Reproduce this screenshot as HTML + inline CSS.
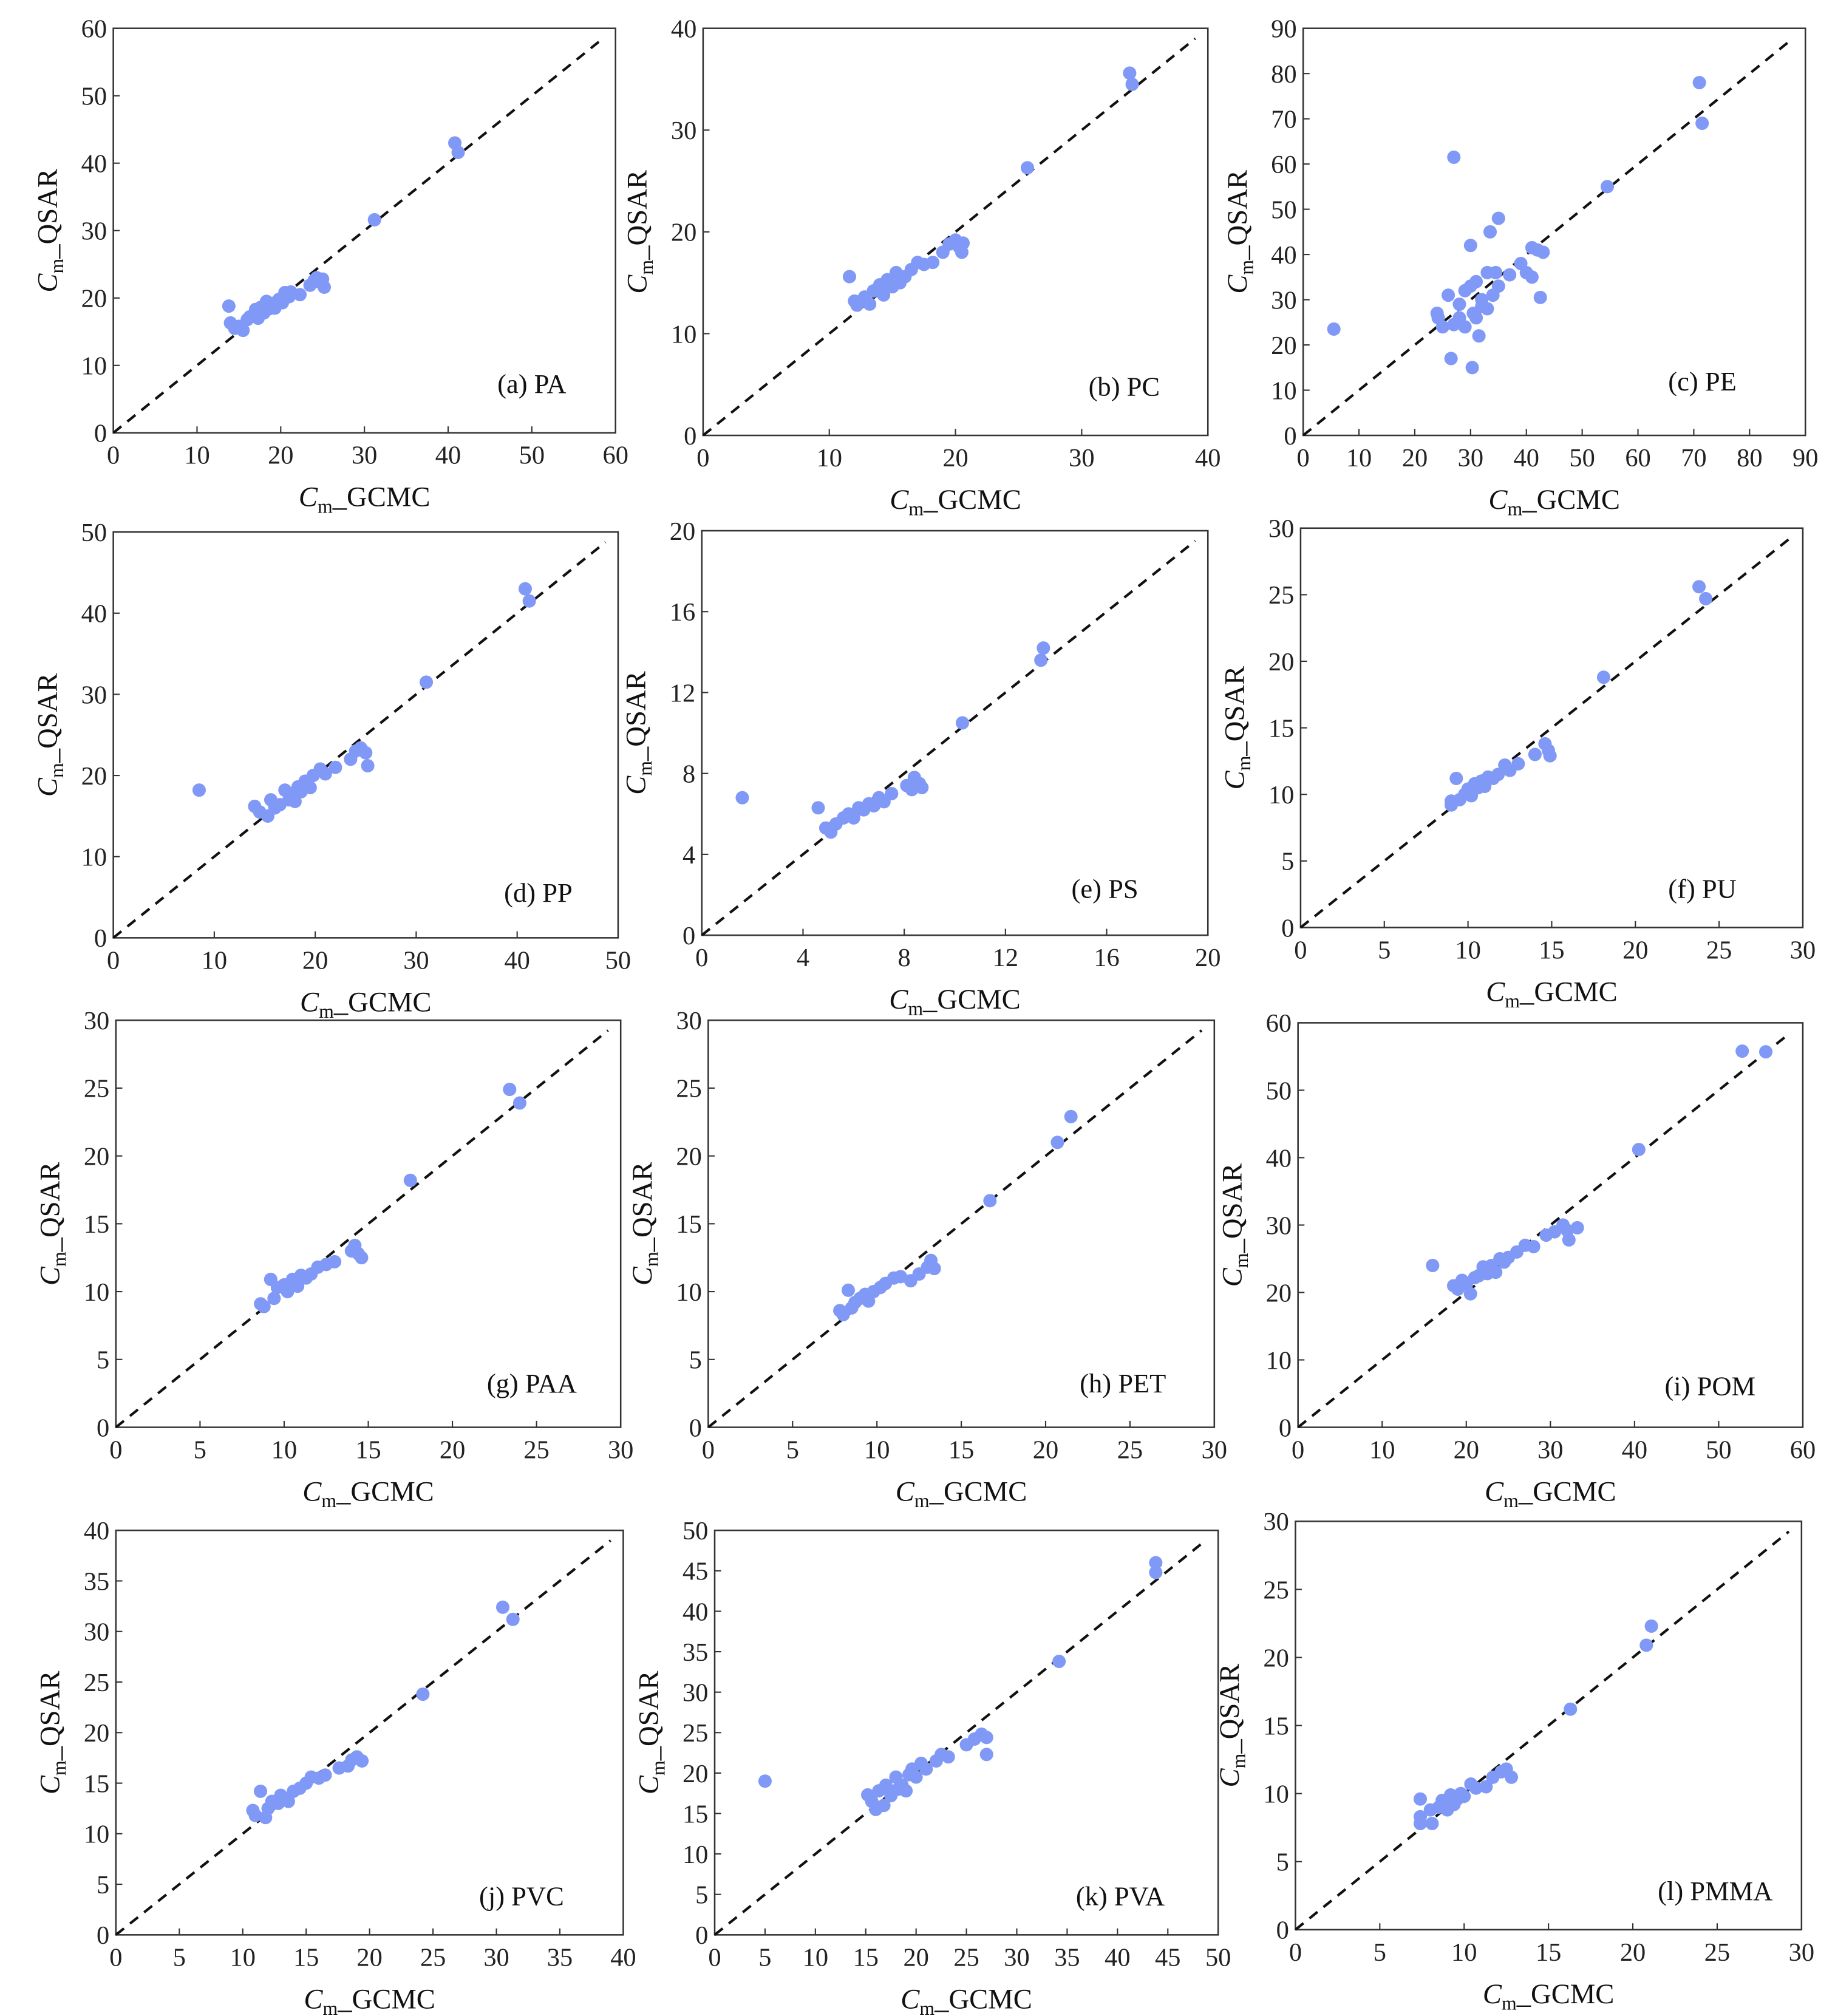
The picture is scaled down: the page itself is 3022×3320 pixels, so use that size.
<!DOCTYPE html>
<html><head><meta charset="utf-8"><style>html,body{margin:0;padding:0;background:#fff}svg{display:block}svg text{font-family:"Liberation Serif","DejaVu Serif",serif}</style></head>
<body>
<svg id="fig" xmlns="http://www.w3.org/2000/svg" width="3022" height="3320" viewBox="0 0 1425 1565" preserveAspectRatio="none" style="font-family:'Liberation Serif',serif"></svg>
<script>
const dataPA=[[13.8,18.8],[14,16.3],[14.5,15.5],[15,15.8],[15.5,15.2],[16,16.8],[16.3,17.2],[16.8,17.5],[17,18.3],[17.3,17],[17.6,18.6],[18,17.8],[18.3,19.5],[18.6,18.4],[19,19.2],[19.3,18.5],[19.8,19.8],[20.2,19.3],[20.5,20.8],[21,20.2],[21.2,20.9],[22.3,20.5],[23.5,21.9],[24,22.6],[24.3,23],[24.6,22.4],[25,22.8],[25.2,21.6],[31.2,31.6],[40.8,43],[41.2,41.6]];
const dataPC=[[11.6,15.6],[12,13.2],[12.2,12.8],[12.8,13.6],[13.2,12.9],[13.5,14.2],[14,14.8],[14.3,13.8],[14.6,15.3],[15,14.6],[15.3,16],[15.6,15],[16,15.6],[16.5,16.3],[17,17],[17.5,16.8],[18.2,17],[19,18],[19.5,18.8],[20,19.2],[20.3,18.5],[20.5,18],[20.6,18.9],[25.7,26.3],[33.8,35.6],[34,34.5]];
const dataPE=[[5.5,23.5],[24,27],[24.2,26],[25,24],[26,31],[26.5,17],[27,61.5],[27,24.5],[28,29],[28,26],[29,32],[29,24],[30,42],[30,33],[30.3,15],[30.5,27],[31,34],[31,26],[31.5,22],[32,30],[32,28.5],[33,36],[33,28],[33.5,45],[34,31],[34.5,36],[35,48],[35,33],[37,35.5],[39,38],[40,36],[41,35],[41,41.5],[42,41],[42.5,30.5],[43,40.5],[54.5,55],[71,78],[71.5,69]];
const dataPP=[[8.5,18.2],[14,16.2],[14.5,15.5],[15.3,15],[15.6,17],[16,16],[16.5,16.4],[17,18.2],[17.4,17],[17.8,17.8],[18,16.8],[18.3,18.6],[18.6,18],[19,19.3],[19.5,18.5],[19.8,20],[20.5,20.8],[21,20.2],[22,21],[23.5,22],[24,23],[24.5,23.4],[25,22.8],[25.2,21.2],[31,31.5],[40.8,43],[41.2,41.5]];
const dataPS=[[1.6,6.8],[4.6,6.3],[4.9,5.3],[5.1,5.1],[5.3,5.5],[5.6,5.8],[5.8,6],[6,5.8],[6.2,6.3],[6.4,6.2],[6.6,6.5],[6.8,6.4],[7,6.8],[7.2,6.6],[7.5,7],[8.1,7.4],[8.3,7.2],[8.4,7.8],[8.6,7.5],[8.7,7.3],[10.3,10.5],[13.4,13.6],[13.5,14.2]];
const dataPU=[[9,9.5],[9,9.2],[9.3,11.2],[9.5,9.6],[9.8,10],[10,10.4],[10.2,9.9],[10.4,10.8],[10.6,10.5],[10.8,11],[11,10.6],[11.2,11.3],[11.5,11.2],[11.8,11.5],[12.2,12.2],[12.5,11.8],[13,12.3],[14,13],[14.6,13.8],[14.8,13.3],[14.9,12.9],[18.1,18.8],[23.8,25.6],[24.2,24.7]];
const dataPAA=[[8.6,9.1],[8.8,8.9],[9.2,10.9],[9.4,9.5],[9.6,10.3],[10,10.5],[10.2,10],[10.5,10.9],[10.8,10.4],[11,11.2],[11.3,11],[11.6,11.3],[12,11.8],[12.5,12],[13,12.2],[14,13],[14.2,13.4],[14.4,12.8],[14.6,12.5],[17.5,18.2],[23.4,24.9],[24,23.9]];
const dataPET=[[7.8,8.6],[8,8.3],[8.3,10.1],[8.5,8.8],[8.7,9.2],[9,9.5],[9.3,9.8],[9.5,9.3],[9.8,10],[10.2,10.3],[10.5,10.6],[11,11],[11.4,11.1],[12,10.8],[12.5,11.3],[13,11.8],[13.2,12.3],[13.4,11.7],[16.7,16.7],[20.7,21],[21.5,22.9]];
const dataPOM=[[16,24],[18.5,21],[19,20.5],[19.5,21.8],[20,21.2],[20.5,19.8],[21,22.2],[21.5,22.5],[22,23.8],[22.5,22.8],[23,24],[23.5,23],[24,25],[24.5,24.5],[25,25.2],[26,26],[27,27],[28,26.8],[29.5,28.5],[30.5,29],[31.5,30],[32,29.2],[32.2,27.8],[33.2,29.6],[40.5,41.2],[52.8,55.8],[55.6,55.7]];
const dataPVC=[[10.8,12.3],[11,11.8],[11.4,14.2],[11.8,11.6],[12,12.5],[12.3,13.2],[12.8,13],[13,13.8],[13.3,13.5],[13.6,13.2],[14,14.2],[14.5,14.5],[15,15],[15.4,15.6],[16,15.5],[16.5,15.8],[17.6,16.5],[18.3,16.7],[18.6,17.3],[19,17.6],[19.4,17.2],[24.2,23.8],[30.5,32.4],[31.3,31.2]];
const dataPVA=[[5,19],[15.2,17.3],[15.6,16.5],[16,15.5],[16.3,17.8],[16.8,16],[17,18.5],[17.5,17.2],[18,19.5],[18.2,18],[18.6,18.5],[19,17.8],[19.3,19.8],[19.6,20.5],[20,19.5],[20.5,21.2],[21,20.5],[22,21.5],[22.5,22.3],[23.2,22],[25,23.5],[25.8,24.2],[26.5,24.8],[27,24.4],[27,22.3],[34.2,33.8],[43.8,46],[43.8,44.8]];
const dataPMMA=[[7.4,9.6],[7.4,8.3],[7.4,7.8],[8,8.8],[8.1,7.8],[8.5,9],[8.7,9.5],[9,8.8],[9.2,9.9],[9.4,9.2],[9.6,9.6],[9.8,10],[10,9.8],[10.4,10.7],[10.7,10.4],[11.3,10.5],[11.7,11.2],[12.2,11.6],[12.5,11.8],[12.8,11.2],[16.3,16.2],[20.8,20.9],[21.1,22.3]];
const panelLabels=["(a) PA","(b) PC","(c) PE","(d) PP","(e) PS","(f) PU","(g) PAA","(h) PET","(i) POM","(j) PVC","(k) PVA","(l) PMMA"];
const axisMax=[60,40,90,50,20,30,30,30,60,40,50,30];
const tickStep=[10,10,10,10,4,5,5,5,10,5,5,5];
const allData=[dataPA,dataPC,dataPE,dataPP,dataPS,dataPU,dataPAA,dataPET,dataPOM,dataPVC,dataPVA,dataPMMA];
const boxes=[[88,478,22,336,413,298],[546,938,22,338,873,300],[1012,1402,22,338,1322,296],
[88,480,413,728,418,693],[545,938,412,726,858,690],[1010,1400,410,720,1322,690],
[90,482,792,1108,413,1074],[550,943,792,1108,872,1074],[1008,1400,794,1108,1328,1076],
[90,484,1188,1502,405,1472],[555,946,1188,1502,870,1472],[1006,1399,1181,1498,1332,1468]];
const NS="http://www.w3.org/2000/svg";
const svg=document.getElementById('fig');
function mk(tag,attrs,parent){const e=document.createElementNS(NS,tag);for(const k in attrs)e.setAttribute(k,attrs[k]);parent.appendChild(e);return e;}
allData.forEach((data,i)=>{
  const [L,R,T,B,lx,ly]=boxes[i];const mx=axisMax[i];
  const sx=v=>L+(R-L)*v/mx, sy=v=>B-(B-T)*v/mx;
  const g=mk('g',{},svg);
  
  
  const fr=mk('rect',{x:L,y:T,width:R-L,height:B-T,fill:'none',stroke:'#333','stroke-width':1.2},g);
  
  
  for(let v=0;v<=mx+1e-9;v+=tickStep[i]){
    const x=sx(v),y=sy(v);
    if(v>0&&v<mx){mk('line',{x1:x,y1:B,x2:x,y2:B-5,stroke:'#333','stroke-width':1},g);mk('line',{x1:L,y1:y,x2:L+5,y2:y,stroke:'#333','stroke-width':1},g);}
    const tx=mk('text',{x:x,y:B+24,'font-size':20,'text-anchor':'middle',fill:'#222'},g);tx.textContent=v;
    
    
    const ty=mk('text',{x:L-5,y:y+7,'font-size':20,'text-anchor':'end',fill:'#222'},g);ty.textContent=v;
    
    
  }
  const dl=mk('line',{x1:sx(0),y1:sy(0),x2:sx(mx*0.975),y2:sy(mx*0.975),stroke:'#111','stroke-width':2,'stroke-dasharray':'8,6'},g);
  
  
  data.forEach(p=>{
    const c=mk('circle',{cx:sx(p[0]),cy:sy(p[1]),r:5.2,fill:'#8199f6'},g);
    
    
  });
  const pl=mk('text',{x:lx,y:ly+7,'font-size':21,'text-anchor':'middle',fill:'#111'},g);pl.textContent=panelLabels[i];
  
  
  const xl=mk('text',{x:(L+R)/2,y:B+57,'font-size':22,'text-anchor':'middle',fill:'#111'},g);
  xl.innerHTML='<tspan font-style="italic">C</tspan><tspan font-size="15" dy="5">m</tspan><tspan dy="-5">_GCMC</tspan>';
  
  
  const cy=(T+B)/2, cx=L-44;
  const yl=mk('text',{x:cx,y:cy,'font-size':22,'text-anchor':'middle',fill:'#111',transform:`rotate(-90 ${cx} ${cy})`},g);
  yl.innerHTML='<tspan font-style="italic">C</tspan><tspan font-size="15" dy="5">m</tspan><tspan dy="-5">_QSAR</tspan>';
  
  
});
</script>
</body></html>
